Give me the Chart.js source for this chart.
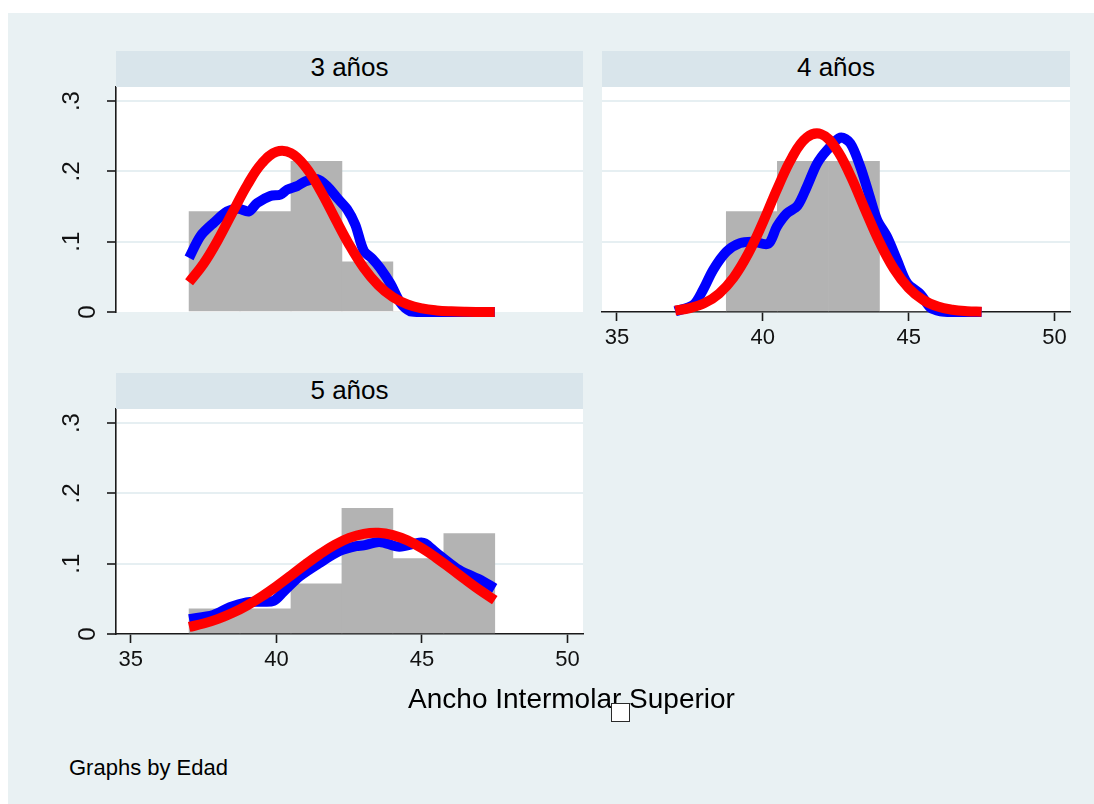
<!DOCTYPE html>
<html>
<head>
<meta charset="utf-8">
<script src="https://cdn.jsdelivr.net/npm/chart.js@4.4.1/dist/chart.umd.min.js"></script>
<style>
  html, body { margin: 0; padding: 0; background: #ffffff; overflow: hidden; width: 1094px; height: 804px; }
  #graphRegion { position: absolute; left: 8px; top: 13px; width: 1086px; height: 791px; background: #e9f1f3; }
  .strip { position: absolute; height: 36px; background: #d9e5eb; z-index: 2; }
  .strip span { position: absolute; left: 0; width: 100%; text-align: center; font-size: 26px; line-height: 26px; }
  .txt, .strip span { font-family: "Liberation Sans", Arial, Helvetica, sans-serif; color: #000; white-space: nowrap; }
  .txt { position: absolute; z-index: 3; }
  canvas { position: absolute; z-index: 1; }
  #marker { position: absolute; left: 611px; top: 703px; width: 19px; height: 19px; box-sizing: border-box;
            border: 1.5px solid #2a2a2a; background: #ffffff; z-index: 4; }
</style>
</head>
<body>
<div id="graphRegion"></div>

<div class="strip" style="left:116px; top:51px; width:467px;"><span id="t0" style="top:3px;"></span></div>
<div class="strip" style="left:602px; top:51px; width:468px;"><span id="t1" style="top:3px;"></span></div>
<div class="strip" style="left:116px; top:373px; width:467px;"><span id="t2" style="top:3.5px;"></span></div>

<canvas id="c0" width="553" height="285" style="left:60px; top:57px;"></canvas>
<canvas id="c1" width="518" height="330" style="left:572px; top:57px;"></canvas>
<canvas id="c2" width="553" height="330" style="left:60px; top:379px;"></canvas>

<div class="txt" id="xtitle" style="left:271.5px; width:600px; text-align:center; top:685px; font-size:28px; line-height:28px;"></div>
<div class="txt" id="note" style="left:69px; top:757px; font-size:22px; line-height:22px;"></div>
<div id="marker"></div>

<script>
// ---- labels ----
const panelTitles = ['3 años', '4 años', '5 años'];
const xTitle = 'Ancho Intermolar Superior';
const noteText = 'Graphs by Edad';

// ---- axis ticks ----
const xTicks = [35, 40, 45, 50];
const xTickLabels = ['35', '40', '45', '50'];
const yTicks = [0, 0.1, 0.2, 0.3];
const yTickLabels = ['0', '.1', '.2', '.3'];

// ---- histogram bins (density) ----
const binEdges = [37, 38.75, 40.5, 42.25, 44, 45.75, 47.5];
const hist3 = [0.1429, 0.1429, 0.2143, 0.0714, 0, 0];
const hist4 = [0, 0.1429, 0.2143, 0.2143, 0, 0];
const hist5 = [0.0357, 0.0357, 0.0714, 0.1786, 0.1071, 0.1429];

// ---- normal density overlay ----
const normX = [37, 37.5, 38, 38.5, 39, 39.5, 40, 40.5, 41, 41.5, 42, 42.5, 43, 43.5, 44, 44.5, 45, 45.5, 46, 46.5, 47, 47.5];
const norm3 = [0.0423, 0.0688, 0.1031, 0.1423, 0.1807, 0.2115, 0.2278, 0.2259, 0.2063, 0.1735, 0.1343, 0.0957, 0.0628, 0.0380, 0.0211, 0.0108, 0.0051, 0.0022, 0.0009, 0.0003, 0.0001, 0.0000];
const norm4 = [0.0022, 0.0055, 0.0126, 0.0261, 0.0489, 0.0829, 0.1269, 0.1756, 0.2195, 0.2479, 0.2530, 0.2332, 0.1944, 0.1463, 0.0996, 0.0611, 0.0340, 0.0170, 0.0077, 0.0032, 0.0012, 0.0004];
const norm5 = [0.0100, 0.0149, 0.0215, 0.0301, 0.0408, 0.0535, 0.0678, 0.0832, 0.0990, 0.1138, 0.1267, 0.1366, 0.1425, 0.1439, 0.1407, 0.1331, 0.1219, 0.1080, 0.0927, 0.0770, 0.0619, 0.0482];

// ---- kernel density overlay ----
const kdenX3 = [37.0, 37.39, 37.85, 38.31, 38.70, 39.05, 39.34, 39.79, 40.14, 40.37, 40.71, 41.00, 41.40, 41.74, 42.09, 42.43, 42.71, 43.00, 43.29, 43.57, 43.92, 44.26, 44.60, 45.0, 46.0, 47.5];
const kdenY3 = [0.077, 0.108, 0.127, 0.143, 0.147, 0.143, 0.155, 0.165, 0.167, 0.174, 0.179, 0.186, 0.189, 0.179, 0.162, 0.146, 0.124, 0.087, 0.076, 0.062, 0.040, 0.013, 0.001, 0, 0, 0];
const kdenX4 = [37.0, 37.62, 37.96, 38.30, 38.76, 39.22, 39.68, 40.19, 40.48, 40.82, 41.19, 41.51, 41.86, 42.20, 42.66, 43.00, 43.34, 43.63, 43.92, 44.26, 44.60, 44.95, 45.41, 45.75, 46.09, 46.5, 47.5];
const kdenY4 = [0.001, 0.010, 0.032, 0.060, 0.086, 0.098, 0.100, 0.097, 0.121, 0.140, 0.151, 0.178, 0.211, 0.230, 0.248, 0.240, 0.207, 0.169, 0.131, 0.107, 0.074, 0.041, 0.025, 0.006, 0.001, 0, 0];
const kdenX5 = [37.0, 37.83, 38.40, 38.97, 39.45, 39.90, 40.24, 40.80, 41.48, 42.17, 42.74, 43.00, 43.54, 44.22, 44.91, 45.10, 45.48, 46.20, 46.73, 46.96, 47.5];
const kdenY5 = [0.021, 0.027, 0.038, 0.045, 0.046, 0.047, 0.060, 0.082, 0.101, 0.118, 0.125, 0.126, 0.131, 0.124, 0.130, 0.129, 0.116, 0.093, 0.082, 0.078, 0.065];

// ---- look ----
const FONT = '"Liberation Sans", Arial, Helvetica, sans-serif';
const AXIS = '#1a1a1a';
const GRID = '#e6eff2';
const BAR = '#b3b3b3';
const KDEN = '#0000ff';
const NORM = '#ff0000';
const X_MIN = 34.49, X_MAX = 50.53, Y_MIN = 0, Y_MAX = 0.32;

Chart.defaults.font.family = FONT;

document.getElementById('t0').textContent = panelTitles[0];
document.getElementById('t1').textContent = panelTitles[1];
document.getElementById('t2').textContent = panelTitles[2];
document.getElementById('xtitle').textContent = xTitle;
document.getElementById('note').textContent = noteText;

// white plot region behind each panel
const plotBg = {
  id: 'plotBg',
  beforeDraw(chart) {
    const { ctx, chartArea: a } = chart;
    ctx.save();
    ctx.fillStyle = '#ffffff';
    ctx.fillRect(a.left, a.top, a.right - a.left, a.bottom - a.top);
    ctx.restore();
  }
};

function pairs(xs, ys) { return xs.map((x, i) => ({ x: x, y: ys[i] })); }

// the zero label sits one line closer to the axis than the others
function yLabel(i) { return i === 0 ? ['', yTickLabels[i]] : yTickLabels[i]; }

function drawPanel(id, hist, norm, kx, ky, showX, showY, pad) {
  const bars = hist.map((h, i) => ({ x: (binEdges[i] + binEdges[i + 1]) / 2, y: h }));
  new Chart(document.getElementById(id), {
    type: 'bar',
    data: {
      datasets: [
        { type: 'line', data: pairs(normX, norm), borderColor: NORM, borderWidth: 10, pointRadius: 0,
          tension: 0.4, borderCapStyle: 'butt', borderJoinStyle: 'round', clip: false, order: 0 },
        { type: 'line', data: pairs(kx, ky), borderColor: KDEN, borderWidth: 10, pointRadius: 0,
          tension: 0.3, borderCapStyle: 'butt', borderJoinStyle: 'round', clip: false, order: 1 },
        { type: 'bar', data: bars, backgroundColor: BAR, borderWidth: 0,
          barPercentage: 1, categoryPercentage: 1, order: 2 }
      ]
    },
    options: {
      responsive: false,
      animation: false,
      devicePixelRatio: 1,
      layout: { padding: pad },
      plugins: { legend: { display: false }, tooltip: { enabled: false } },
      scales: {
        x: {
          type: 'linear', min: X_MIN, max: X_MAX, offset: false,
          display: showX,
          grid: { display: true, offset: false, drawOnChartArea: false, drawTicks: true,
                  tickLength: 9, tickWidth: 1.6, tickColor: AXIS },
          border: { display: true, color: AXIS, width: 1.6 },
          ticks: { color: '#111', font: { size: 22 }, padding: 4, autoSkip: false, maxRotation: 0,
                   callback: (v, i) => xTickLabels[i] },
          afterBuildTicks: s => { s.ticks = xTicks.map(v => ({ value: v })); },
          afterFit: s => { s.height = showX ? 45 : 0; }
        },
        y: {
          type: 'linear', min: Y_MIN, max: Y_MAX,
          display: true,
          grid: { color: c => (c.tick && c.tick.value === 0) ? 'rgba(0,0,0,0)' : GRID,
                  lineWidth: 2, drawTicks: showY, tickLength: 9, tickWidth: 1.6, tickColor: AXIS },
          border: { display: showY, color: AXIS, width: 1.6 },
          ticks: { display: showY, color: '#111', font: { size: 24, lineHeight: '32px' },
                   minRotation: 90, maxRotation: 90, crossAlign: 'center', padding: 25, autoSkip: false,
                   callback: (v, i) => yLabel(i) },
          afterBuildTicks: s => { s.ticks = yTicks.map(v => ({ value: v })); },
          afterFit: s => { s.width = showY ? 56 : 0; s.paddingTop = 0; s.paddingBottom = 0; }
        }
      }
    },
    plugins: [plotBg]
  });
}

drawPanel('c0', hist3, norm3, kdenX3, kdenY3, false, true, { left: 0, top: 30, right: 30, bottom: 30 });
drawPanel('c1', hist4, norm4, kdenX4, kdenY4, true, false, { left: 30, top: 30, right: 20, bottom: 30 });
drawPanel('c2', hist5, norm5, kdenX5, kdenY5, true, true, { left: 0, top: 30, right: 30, bottom: 30 });
</script>
</body>
</html>
